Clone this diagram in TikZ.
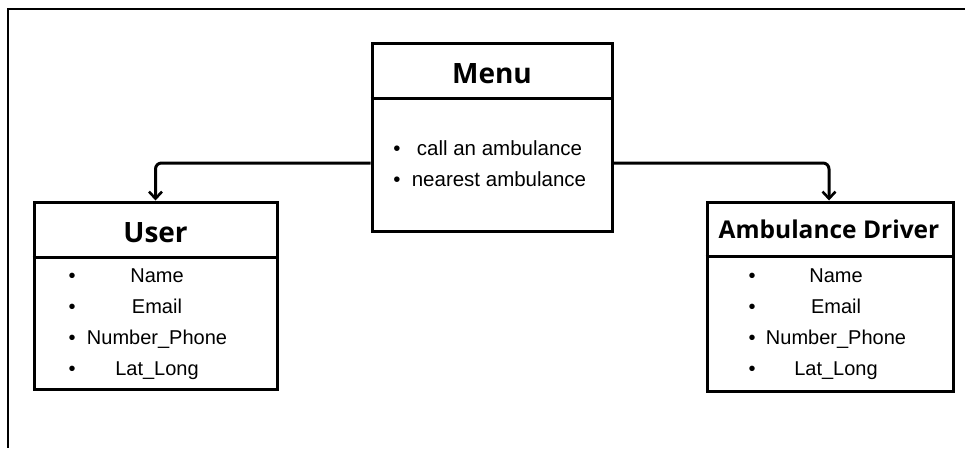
\documentclass[tikz,border=0pt]{standalone}
\usepackage{fontspec}
\setmainfont{Liberation Sans}
\newfontfamily\headfont{Open Sans}
\usetikzlibrary{arrows.meta}

\tikzset{
  classbox/.style={draw, line width=3pt, inner sep=0pt},
  divider/.style={line width=3pt},
  frameline/.style={line width=2pt},
  conn/.style={line width=3pt, rounded corners=6pt,
    -{Straight Barb[length=7pt,width=13pt,line width=2.6pt]}},
  headtext/.style={anchor=base, inner sep=0pt, font=\headfont\bfseries\fontsize{28}{30}\selectfont},
  itemtext/.style={anchor=base, inner sep=0pt, font=\fontsize{20}{22}\selectfont},
  menutext/.style={anchor=base, inner sep=0pt, font=\fontsize{20.5}{22}\selectfont},
}

\begin{document}
\begin{tikzpicture}[x=1pt, y=-1pt]
  \useasboundingbox (0,0) rectangle (965,448);
  \fill[white] (0,0) rectangle (965,448);

  % outer frame (only top and left edges fall inside the page)
  \draw[frameline] (965,9) -- (8,9) -- (8,448);

  % Menu
  \node[classbox, minimum width=240pt, minimum height=188pt] (menu) at (492,137) {};
  \draw[divider] (menu.west |- 0,98) -- (menu.east |- 0,98);
  \node[headtext] (menuT) at (492,83) {Menu};
  \node[menutext] (mb1) at (397,155) {•};
  \node[menutext] (mi1) at (499.5,155) {call an ambulance};
  \node[menutext] (mb2) at (397,186) {•};
  \node[menutext] (mi2) at (499,186) {nearest ambulance};

  % User
  \node[classbox, minimum width=243pt, minimum height=187pt] (user) at (155.5,295.5) {};
  \draw[divider] (user.west |- 0,257) -- (user.east |- 0,257);
  \node[headtext] (userT) at (155.5,242) {User};
  \foreach \t/\yy [count=\i] in {Name/282, Email/313, Number\_Phone/344, Lat\_Long/375}{
    \node[itemtext] (ub\i) at (72,\yy) {•};
    \node[itemtext] (ui\i) at (157,\yy) {\t};
  }

  % Ambulance Driver
  \node[classbox, minimum width=246pt, minimum height=189pt] (driver) at (830,296.5) {};
  \draw[divider] (driver.west |- 0,256) -- (driver.east |- 0,256);
  \node[headtext, font=\headfont\bfseries\fontsize{24.5}{26}\selectfont] (driverT) at (829,238) {Ambulance Driver};
  \foreach \t/\yy [count=\i] in {Name/282, Email/313, Number\_Phone/344, Lat\_Long/375}{
    \node[itemtext] (db\i) at (752,\yy) {•};
    \node[itemtext] (di\i) at (836,\yy) {\t};
  }

  % connectors
  \draw[conn] (menu.west) ++(0,26) -| (user.north);
  \draw[conn] (menu.east) ++(0,26) -| ([xshift=-1pt]driver.north);
\end{tikzpicture}
\end{document}
